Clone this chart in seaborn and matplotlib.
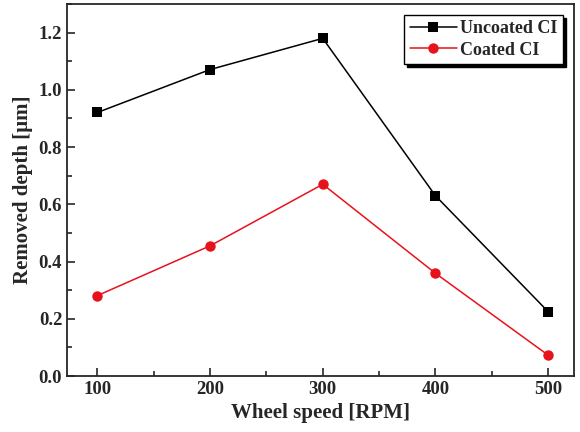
import pandas as pd
import matplotlib.pyplot as plt
import seaborn as sns
from matplotlib.ticker import MultipleLocator

# data
wheel_speed = [100, 200, 300, 400, 500]
uncoated = [0.921, 1.071, 1.180, 0.630, 0.225]
coated = [0.281, 0.455, 0.670, 0.359, 0.073]

df = pd.DataFrame({
    'speed': wheel_speed * 2,
    'depth': uncoated + coated,
    'sample': ['Uncoated CI'] * 5 + ['Coated CI'] * 5,
})

sns.set_style("ticks")
plt.rcParams['font.family'] = ['Liberation Serif', 'DejaVu Serif']
plt.rcParams['font.weight'] = 'bold'

fig = plt.figure(figsize=(5.8, 4.32), dpi=100)
ax = fig.add_axes([0.1155, 0.1296, 0.8742, 0.8611])

sns.lineplot(data=df, x='speed', y='depth', hue='sample', style='sample',
             palette={'Uncoated CI': 'black', 'Coated CI': '#e8121b'},
             markers={'Uncoated CI': 's', 'Coated CI': 'o'}, dashes=False,
             markersize=7.5, markeredgewidth=0, linewidth=1.1, ax=ax)

ax.set_xlim(73, 523)
ax.set_ylim(0, 1.3)
ax.set_xticks(wheel_speed)
ax.xaxis.set_minor_locator(MultipleLocator(50))
ax.yaxis.set_major_locator(MultipleLocator(0.2))
ax.yaxis.set_minor_locator(MultipleLocator(0.1))
ax.yaxis.set_major_formatter(plt.FormatStrFormatter('%.1f'))
ax.tick_params(which='both', direction='in', width=1.2, labelsize=13.5)
ax.tick_params(which='major', length=6)
ax.tick_params(which='minor', length=3.5)
for lab in ax.get_xticklabels() + ax.get_yticklabels():
    lab.set_fontweight('bold')
for sp in ax.spines.values():
    sp.set_linewidth(1.3)

ax.set_xlabel('Wheel speed [RPM]', fontsize=15, fontweight='bold')
ax.set_ylabel('Removed depth [\u03bcm]', fontsize=15, fontweight='bold')

leg = ax.legend(loc='upper right', fontsize=13, fancybox=False,
                shadow={'color': 'black', 'alpha': 1},
                handlelength=2.6, borderpad=0.3, labelspacing=0.25,
                handletextpad=0.2, borderaxespad=0.6)
leg.get_frame().set_edgecolor('black')
for t in leg.get_texts():
    t.set_fontweight('bold')

fig.savefig('out.png', dpi=100)
